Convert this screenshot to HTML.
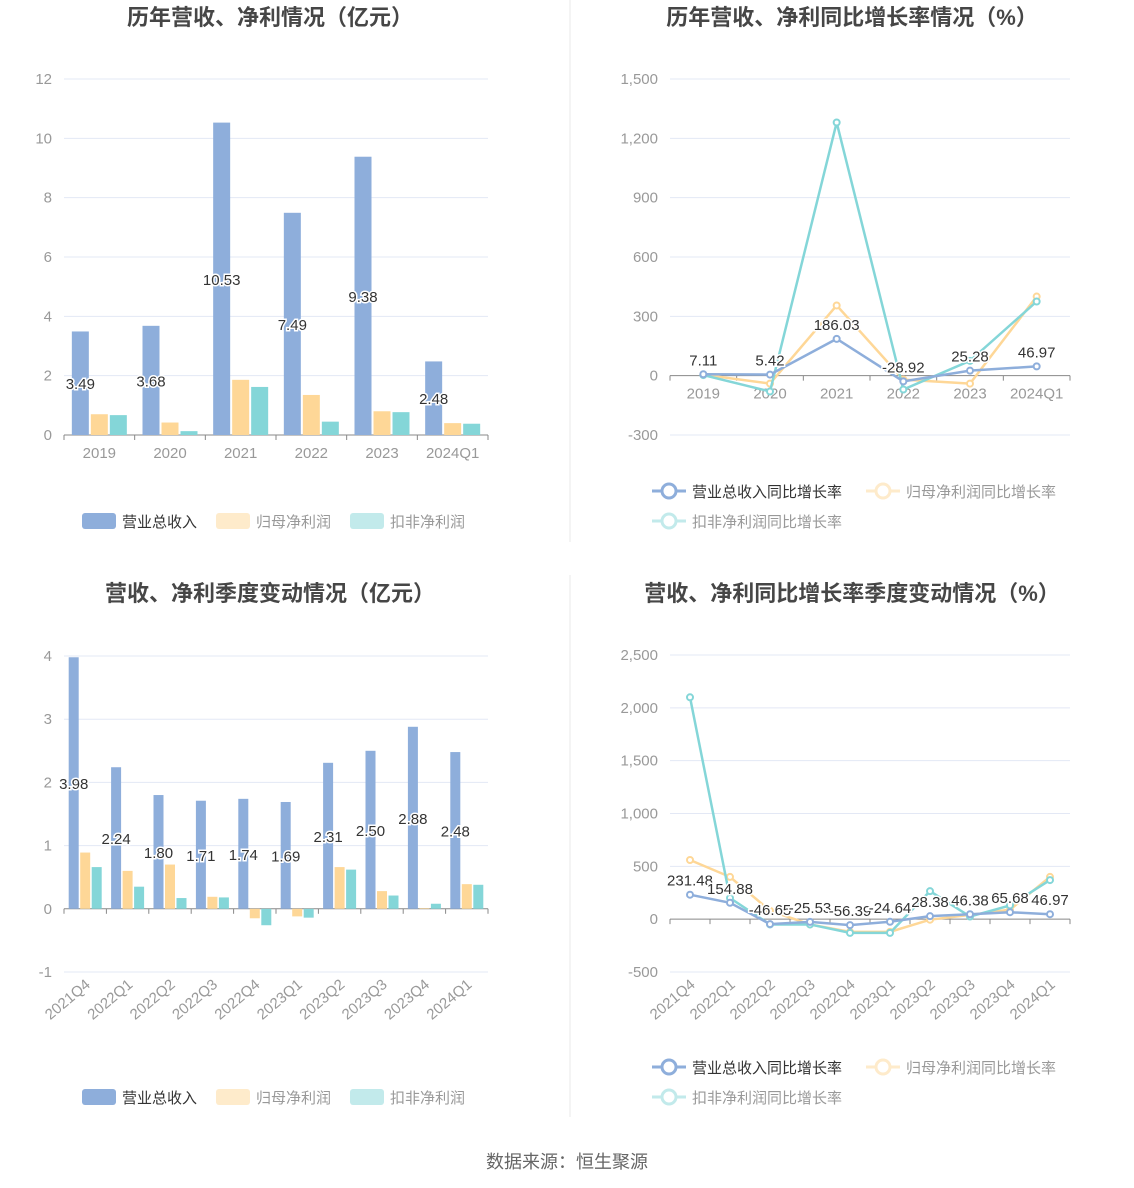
<!DOCTYPE html>
<html><head><meta charset="utf-8">
<style>
body{margin:0;background:#fff;width:1134px;height:1188px;overflow:hidden;font-family:"Liberation Sans","Noto Sans CJK SC",sans-serif;}
svg{position:absolute;left:0;top:0}
</style></head>
<body>
<svg id="c" width="1134" height="1188" xmlns="http://www.w3.org/2000/svg" font-family="Liberation Sans, Noto Sans CJK SC, sans-serif">
<line x1="570" y1="0" x2="570" y2="542" stroke="#e8e8e8"/>
<line x1="570" y1="575" x2="570" y2="1117" stroke="#e8e8e8"/>
<text x="270" y="25" text-anchor="middle" font-size="22" font-weight="bold" fill="#464646">历年营收、净利情况（亿元）</text>
<text x="852" y="25" text-anchor="middle" font-size="22" font-weight="bold" fill="#464646">历年营收、净利同比增长率情况（%）</text>
<text x="270" y="601" text-anchor="middle" font-size="22" font-weight="bold" fill="#464646">营收、净利季度变动情况（亿元）</text>
<text x="852" y="601" text-anchor="middle" font-size="22" font-weight="bold" fill="#464646">营收、净利同比增长率季度变动情况（%）</text>
<text x="567" y="1168" text-anchor="middle" font-size="18" fill="#666">数据来源：恒生聚源</text>
</svg>
<script>
// Chart 1 data
const c1Cats=["2019","2020","2021","2022","2023","2024Q1"];
const c1Rev=[3.49,3.68,10.53,7.49,9.38,2.48];
const c1Net=[0.70,0.42,1.86,1.35,0.80,0.40];
const c1Ded=[0.67,0.13,1.62,0.45,0.77,0.38];
const c1Ticks=[0,2,4,6,8,10,12];
// Chart 2 data
const c2Cats=["2019","2020","2021","2022","2023","2024Q1"];
const c2Rev=[7.11,5.42,186.03,-28.92,25.28,46.97];
const c2Net=[5,-40,355,-20,-40,400];
const c2Ded=[3,-80,1280,-70,75,375];
const c2Ticks=[-300,0,300,600,900,1200,1500];
// Chart 3 data
const c3Cats=["2021Q4","2022Q1","2022Q2","2022Q3","2022Q4","2023Q1","2023Q2","2023Q3","2023Q4","2024Q1"];
const c3Rev=[3.98,2.24,1.80,1.71,1.74,1.69,2.31,2.50,2.88,2.48];
const c3Net=[0.89,0.60,0.70,0.19,-0.15,-0.12,0.66,0.28,0.01,0.39];
const c3Ded=[0.66,0.35,0.17,0.18,-0.26,-0.14,0.62,0.21,0.08,0.38];
const c3Ticks=[-1,0,1,2,3,4];
// Chart 4 data
const c4Cats=["2021Q4","2022Q1","2022Q2","2022Q3","2022Q4","2023Q1","2023Q2","2023Q3","2023Q4","2024Q1"];
const c4Rev=[231.48,154.88,-46.65,-25.53,-56.39,-24.64,28.38,46.38,65.68,46.97];
const c4Net=[560,400,80,-50,-120,-120,-5,40,90,400];
const c4Ded=[2100,200,-50,-50,-130,-130,265,25,130,370];
const c4Ticks=[-500,0,500,1000,1500,2000,2500];

const svg=document.getElementById('c');
const NS="http://www.w3.org/2000/svg";
function mk(tag,attrs,parent){const e=document.createElementNS(NS,tag);for(const k in attrs)e.setAttribute(k,attrs[k]);(parent||svg).appendChild(e);return e;}
function fmt(v){return v.toLocaleString('en-US');}
const BLUE="#8eaedb",YEL="#fed797",TEAL="#84d6d8";

function axes(g,cfg){
  const {x0,x1,yTop,yBot,ticks,cats,rotate}=cfg;
  const min=ticks[0],max=ticks[ticks.length-1];
  const y=v=>yBot-(v-min)/(max-min)*(yBot-yTop);
  const bw=(x1-x0)/cats.length;
  const xc=i=>x0+bw*(i+0.5);
  ticks.forEach(t=>{
    const gl=mk('line',{x1:x0,x2:x1,y1:y(t),y2:y(t),stroke:t===0?'#888':'#e3e8f5','stroke-width':1},g);
    
    
    const tl=mk('text',{x:x0-12,y:y(t)+5,'text-anchor':'end','font-size':15,fill:'#999'},g);
    tl.textContent=cfg.fmt?fmt(t):t;
    
    
  });
  const y0=y(0);
  for(let i=0;i<=cats.length;i++){
    const tk=mk('line',{x1:x0+bw*i,x2:x0+bw*i,y1:y0,y2:y0+5,stroke:'#888'},g);
    
    
  }
  cats.forEach((c,i)=>{
    let t;
    if(rotate){t=mk('text',{x:xc(i)+6,y:y(min)+14,'text-anchor':'end','font-size':15,fill:'#999',transform:`rotate(-40 ${xc(i)+6} ${y(min)+14})`},g);}
    else t=mk('text',{x:xc(i),y:y0+23,'text-anchor':'middle','font-size':15,fill:'#999'},g);
    t.textContent=c;
    
    
  });
  return {y,xc,bw};
}
function lbl(g,x,y,txt){
  const t=mk('text',{x:x,y:y,'text-anchor':'middle','font-size':15,fill:'#333',stroke:'#fff','stroke-width':3,'paint-order':'stroke'},g);
  t.textContent=txt;
  
  
}
function barChart(name,cfg,series,names){
  const g=mk('g',{});
  
  
  const {y,xc,bw}=axes(g,cfg);
  const w=cfg.barW,gap=cfg.gap;
  const cols=[BLUE,YEL,TEAL];
  series.forEach((s,si)=>{
    s.forEach((v,i)=>{
      const cx=xc(i)+(si-1)*(w+gap);
      const top=Math.min(y(v),y(0)),h=Math.abs(y(v)-y(0));
      const r=mk('rect',{x:cx-w/2,y:top,width:w,height:h,fill:cols[si]},g);
      
      
    });
  });
  series[0].forEach((v,i)=>{lbl(g,xc(i)-(w+gap),(y(v)+y(0))/2+6,v.toFixed(2));});
  // legend
  const L=[["营业总收入",BLUE,'#333'],["归母净利润","#feebcb",'#999'],["扣非净利润","#c2eaeb",'#999']];
  L.forEach((l,i)=>{
    const lx=82+i*134;
    const r=mk('rect',{x:lx,y:cfg.legY-8,width:34,height:16,rx:3,fill:l[1]});
    
    
    const t=mk('text',{x:lx+40,y:cfg.legY+6,'font-size':15,fill:l[2]});
    t.textContent=l[0];
    
    
  });
}
function lineChart(name,cfg,series,names){
  const g=mk('g',{});
  
  
  const {y,xc}=axes(g,cfg);
  const cols=[BLUE,YEL,TEAL];
  [1,2,0].forEach(si=>{
    const s=series[si];
    const p=mk('polyline',{points:s.map((v,i)=>xc(i)+','+y(v)).join(' '),fill:'none',stroke:cols[si],'stroke-width':2.5},g);
    
    
    s.forEach((v,i)=>{
      const c=mk('circle',{cx:xc(i),cy:y(v),r:3,fill:'#fff',stroke:cols[si],'stroke-width':2},g);
      
      
    });
  });
  series[0].forEach((v,i)=>lbl(g,xc(i),y(v)-9,v.toFixed(2)));
  const L=[["营业总收入同比增长率",BLUE,'#333',652,cfg.legY],["归母净利润同比增长率","#feebcb",'#999',866,cfg.legY],["扣非净利润同比增长率","#c2eaeb",'#999',652,cfg.legY+30]];
  L.forEach(l=>{
    const ln=mk('line',{x1:l[3],x2:l[3]+34,y1:l[4],y2:l[4],stroke:l[1],'stroke-width':3});
    
    
    const c=mk('circle',{cx:l[3]+17,cy:l[4],r:7,fill:'#fff',stroke:l[1],'stroke-width':3});
    
    
    const t=mk('text',{x:l[3]+40,y:l[4]+6,'font-size':15,fill:l[2]});
    t.textContent=l[0];
    
    
  });
}
const nm=['revenue','net-profit','deducted-profit'];
barChart('annual-bar-chart',{x0:64,x1:488,yTop:79,yBot:435,ticks:c1Ticks,cats:c1Cats,barW:17,gap:2,legY:521},[c1Rev,c1Net,c1Ded],nm);
lineChart('annual-growth-chart',{x0:670,x1:1070,yTop:79,yBot:435,ticks:c2Ticks,cats:c2Cats,fmt:true,legY:491},[c2Rev,c2Net,c2Ded],nm);
barChart('quarterly-bar-chart',{x0:64,x1:488,yTop:656,yBot:972,ticks:c3Ticks,cats:c3Cats,barW:10,gap:1.5,rotate:true,legY:1097},[c3Rev,c3Net,c3Ded],nm);
lineChart('quarterly-growth-chart',{x0:670,x1:1070,yTop:655,yBot:972,ticks:c4Ticks,cats:c4Cats,fmt:true,rotate:true,legY:1067},[c4Rev,c4Net,c4Ded],nm);
</script>
</body></html>
